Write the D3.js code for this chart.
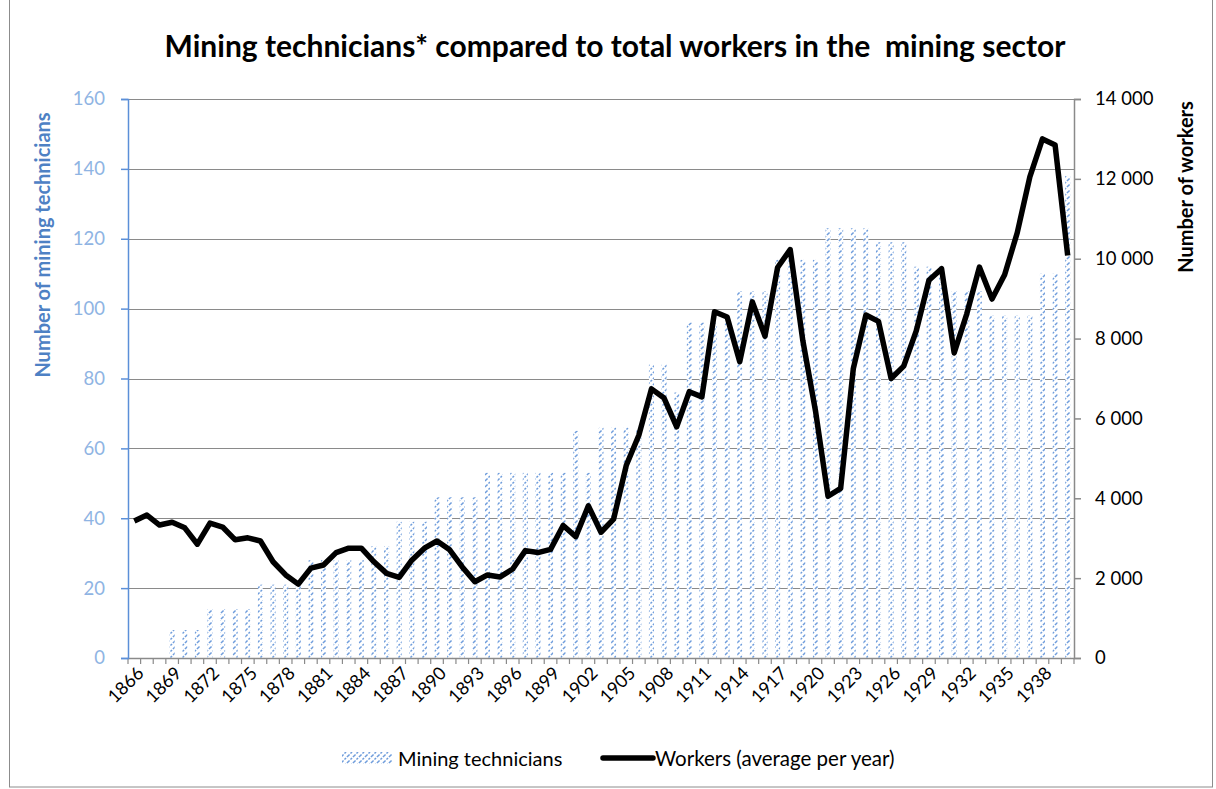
<!DOCTYPE html>
<html>
<head>
<meta charset="utf-8">
<script src="https://d3js.org/d3.v7.min.js"></script>
<style>
  body { margin: 0; background: #fff; }
  svg { display: block; font-family: Lato, "Open Sans", sans-serif; }
</style>
</head>
<body>
<svg id="main" width="1216" height="789"></svg>
<script>
// categories (one per year)
var years = [1866, 1867, 1868, 1869, 1870, 1871, 1872, 1873, 1874, 1875,
             1876, 1877, 1878, 1879, 1880, 1881, 1882, 1883, 1884, 1885,
             1886, 1887, 1888, 1889, 1890, 1891, 1892, 1893, 1894, 1895,
             1896, 1897, 1898, 1899, 1900, 1901, 1902, 1903, 1904, 1905,
             1906, 1907, 1908, 1909, 1910, 1911, 1912, 1913, 1914, 1915,
             1916, 1917, 1918, 1919, 1920, 1921, 1922, 1923, 1924, 1925,
             1926, 1927, 1928, 1929, 1930, 1931, 1932, 1933, 1934, 1935,
             1936, 1937, 1938, 1939, 1940];

// mining technicians (left axis, bars)
var technicians = [0, 0, 0, 8, 8, 8, 14, 14, 14, 14,
                   21, 21, 21, 21, 28, 28, 28, 28, 28, 32,
                   32, 39, 39, 39, 46, 46, 46, 46, 53, 53,
                   53, 53, 53, 53, 53, 65, 53, 66, 66, 66,
                   66, 84, 84, 76, 96, 96, 96, 96, 105, 105,
                   105, 114, 114, 114, 114, 123, 123, 123, 123, 119,
                   119, 119, 112, 112, 112, 105, 105, 105, 98, 98,
                   98, 98, 110, 110, 138];

// workers, average per year (right axis, line)
var workers = [3430, 3580, 3330, 3400, 3260, 2850, 3380, 3280, 2960, 3010,
               2930, 2410, 2080, 1850, 2250, 2330, 2640, 2750, 2750, 2410,
               2120, 2020, 2450, 2750, 2930, 2710, 2280, 1910, 2080, 2030,
               2230, 2690, 2640, 2720, 3320, 3040, 3810, 3150, 3480, 4820,
               5580, 6740, 6510, 5790, 6670, 6540, 8670, 8540, 7420, 8920,
               8060, 9780, 10230, 7950, 6200, 4050, 4250, 7240, 8590, 8430,
               7000, 7310, 8200, 9460, 9750, 7640, 8620, 9790, 8990, 9600,
               10650, 12050, 13000, 12850, 10080];

var leftTicks = [0, 20, 40, 60, 80, 100, 120, 140, 160];
var rightTicks = [0, 2000, 4000, 6000, 8000, 10000, 12000, 14000];
var yearLabels = years.filter(function(y) { return (y - 1866) % 3 === 0; });

var svg = d3.select('svg#main');
var plot = {left: 128, right: 1074, top: 99, bottom: 658};

var x = d3.scaleBand().domain(years).range([plot.left, plot.right])
    .paddingInner(0.6).paddingOuter(0.3);
var step = x.step();
var xc = function(y) { return x(y) + x.bandwidth() / 2; };
var yL = d3.scaleLinear().domain([0, 160]).range([plot.bottom, plot.top]);
var yR = d3.scaleLinear().domain([0, 14000]).range([plot.bottom, plot.top]);

var loc = d3.formatLocale({decimal: ".", thousands: " ", grouping: [3], currency: ["", ""]});
var fmt = loc.format(",");

// hatch pattern for the bars
var defs = svg.append('defs');
var pat = defs.append('pattern').attr('id', 'hatch')
    .attr('patternUnits', 'userSpaceOnUse').attr('width', 6).attr('height', 6);
pat.append('rect').attr('width', 6).attr('height', 6).attr('fill', '#fff');
pat.append('path').attr('d', 'M0,6 L6,0 M-1,1 L1,-1 M5,7 L7,5')
    .attr('stroke', '#6f9ddc').attr('stroke-width', 1.5).attr('stroke-dasharray', '2.2 1.3');

// outer border
svg.append('rect').attr('x', 9.5).attr('y', -2).attr('width', 1203).attr('height', 789)
    .attr('fill', 'none').attr('stroke', '#8c8c8c');

// title
svg.append('text').attr('x', 615).attr('y', 57).attr('text-anchor', 'middle')
    .attr('font-size', 30).attr('font-weight', 'bold').attr('fill', '#000')
    .style('white-space', 'pre')
    .text('Mining technicians* compared to total workers in the  mining sector');

// gridlines
svg.append('g').selectAll('line').data(leftTicks.slice(1)).join('line')
    .attr('x1', plot.left).attr('x2', plot.right)
    .attr('y1', function(d) { return Math.round(yL(d)) + 0.5; })
    .attr('y2', function(d) { return Math.round(yL(d)) + 0.5; })
    .attr('stroke', '#8a8a8a').attr('stroke-width', 1.2);

// bars
svg.append('g').selectAll('rect').data(years).join('rect')
    .attr('x', function(d) { return x(d); })
    .attr('width', x.bandwidth())
    .attr('y', function(d, i) { return yL(technicians[i]); })
    .attr('height', function(d, i) { return plot.bottom - yL(technicians[i]); })
    .attr('fill', 'url(#hatch)');

// x axis line and ticks
var xg = svg.append('g');
xg.append('line').attr('x1', plot.left).attr('x2', plot.right)
    .attr('y1', plot.bottom + 0.5).attr('y2', plot.bottom + 0.5)
    .attr('stroke', '#8a8a8a').attr('stroke-width', 1.5);
xg.selectAll('line.tick').data(d3.range(years.length + 1)).join('line')
    .attr('class', 'tick')
    .attr('x1', function(i) { return plot.left + i * step; })
    .attr('x2', function(i) { return plot.left + i * step; })
    .attr('y1', plot.bottom).attr('y2', plot.bottom + 6)
    .attr('stroke', '#8a8a8a').attr('stroke-width', 1.2);
xg.selectAll('text').data(yearLabels).join('text')
    .attr('transform', function(d) { return 'translate(' + (xc(d) + 6) + ',' + (plot.bottom + 12) + ') rotate(-45)'; })
    .attr('text-anchor', 'end').attr('dy', '0.35em')
    .attr('font-size', 18).attr('fill', '#000')
    .text(function(d) { return d; });

// left axis
var la = svg.append('g').attr('transform', 'translate(' + plot.left + ',0)')
    .call(d3.axisLeft(yL).tickValues(leftTicks).tickSize(7).tickPadding(16));
la.select('.domain').attr('stroke', '#5b8fd8').attr('stroke-width', 1.5);
la.selectAll('.tick line').attr('stroke', '#5b8fd8').attr('stroke-width', 1.5);
la.selectAll('.tick text').attr('fill', '#8fb4e3').attr('font-size', 18.5)
    .attr('font-family', 'Lato, sans-serif');

// right axis
var ra = svg.append('g').attr('transform', 'translate(' + plot.right + ',0)')
    .call(d3.axisRight(yR).tickValues(rightTicks).tickSize(7).tickPadding(14).tickFormat(fmt));
ra.select('.domain').attr('stroke', '#8a8a8a').attr('stroke-width', 1.5);
ra.selectAll('.tick line').attr('stroke', '#8a8a8a').attr('stroke-width', 1.5);
ra.selectAll('.tick text').attr('fill', '#000').attr('font-size', 18.5)
    .attr('font-family', 'Lato, sans-serif');

// axis titles
svg.append('text').attr('transform', 'translate(50,245) rotate(-90)')
    .attr('text-anchor', 'middle').attr('font-size', 20).attr('font-weight', 'bold')
    .attr('fill', '#4e81c4').text('Number of mining technicians');
svg.append('text').attr('transform', 'translate(1193,187) rotate(-90)')
    .attr('text-anchor', 'middle').attr('font-size', 20).attr('font-weight', 'bold')
    .attr('fill', '#000').text('Number of workers');

// workers line
var line = d3.line()
    .x(function(d, i) { return xc(years[i]); })
    .y(function(d) { return yR(d); });
svg.append('path').datum(workers)
    .attr('d', line).attr('fill', 'none').attr('stroke', '#000')
    .attr('stroke-width', 5.5).attr('stroke-linejoin', 'round');

// legend
var lg = svg.append('g');
lg.append('rect').attr('x', 342).attr('y', 752).attr('width', 50).attr('height', 12)
    .attr('fill', 'url(#hatch)');
lg.append('text').attr('x', 398).attr('y', 766).attr('font-size', 20)
    .text('Mining technicians');
lg.append('line').attr('x1', 603).attr('x2', 653).attr('y1', 758).attr('y2', 758)
    .attr('stroke', '#000').attr('stroke-width', 5.5).attr('stroke-linecap', 'round');
lg.append('text').attr('x', 655).attr('y', 766).attr('font-size', 20.5)
    .text('Workers (average per year)');
</script>
</body>
</html>
